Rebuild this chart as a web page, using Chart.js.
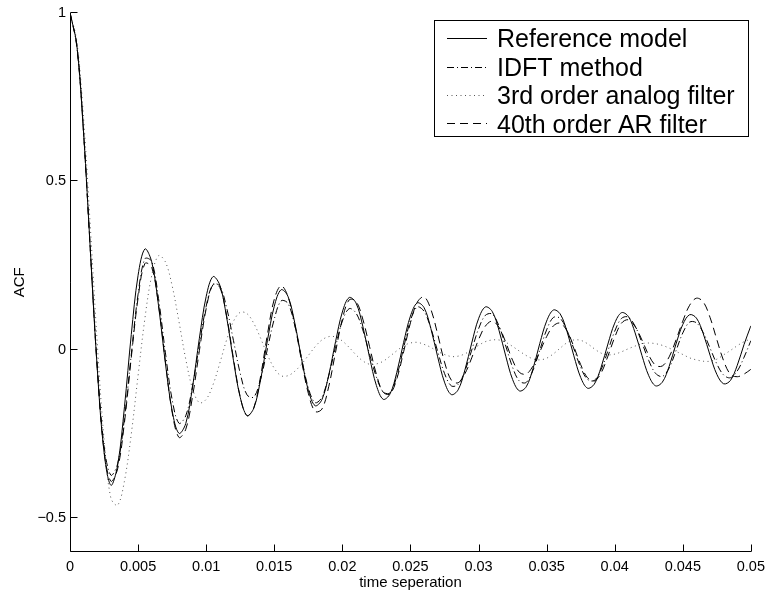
<!DOCTYPE html>
<html>
<head>
<meta charset="utf-8">
<script src="https://cdn.jsdelivr.net/npm/chart.js@4/dist/chart.umd.min.js"></script>
<style>
html,body{margin:0;padding:0;background:#fff;}
#wrap{width:771px;height:592px;}
</style>
</head>
<body>
<div id="wrap"><canvas id="c" width="771" height="592"></canvas></div>
<script>
// ---- data ----
const timeSep = [
0,0.0005,0.001,0.0015,0.002,0.0025,0.003,0.0035,0.004,0.0045,
0.005,0.0055,0.006,0.0065,0.007,0.0075,0.008,0.0085,0.009,0.0095,
0.01,0.0105,0.011,0.0115,0.012,0.0125,0.013,0.0135,0.014,0.0145,
0.015,0.0155,0.016,0.0165,0.017,0.0175,0.018,0.0185,0.019,0.0195,
0.02,0.0205,0.021,0.0215,0.022,0.0225,0.023,0.0235,0.024,0.0245,
0.025,0.0255,0.026,0.0265,0.027,0.0275,0.028,0.0285,0.029,0.0295,
0.03,0.0305,0.031,0.0315,0.032,0.0325,0.033,0.0335,0.034,0.0345,
0.035,0.0355,0.036,0.0365,0.037,0.0375,0.038,0.0385,0.039,0.0395,
0.04,0.0405,0.041,0.0415,0.042,0.0425,0.043,0.0435,0.044,0.0445,
0.045,0.0455,0.046,0.0465,0.047,0.0475,0.048,0.0485,0.049,0.0495,
0.05];

const referenceModel = [
1.000,0.904,0.643,0.291,-0.055,-0.304,-0.402,-0.342,-0.169,0.045,
0.221,0.299,0.261,0.131,-0.038,-0.181,-0.248,-0.219,-0.110,0.034,
0.158,0.217,0.192,0.097,-0.031,-0.141,-0.195,-0.173,-0.088,0.028,
0.129,0.178,0.159,0.081,-0.026,-0.120,-0.166,-0.148,-0.075,0.024,
0.112,0.155,0.139,0.070,-0.023,-0.106,-0.147,-0.131,-0.067,0.022,
0.100,0.139,0.125,0.063,-0.021,-0.096,-0.133,-0.119,-0.060,0.020,
0.092,0.127,0.114,0.058,-0.019,-0.088,-0.122,-0.110,-0.056,0.019,
0.085,0.118,0.106,0.054,-0.018,-0.082,-0.114,-0.102,-0.052,0.017,
0.079,0.110,0.099,0.050,-0.017,-0.077,-0.107,-0.096,-0.049,0.017,
0.075,0.104,0.094,0.048,-0.016,-0.073,-0.101,-0.091,-0.046,0.016,
0.071];

const idftMethod = [
1.000,0.900,0.640,0.290,-0.045,-0.285,-0.372,-0.338,-0.202,-0.014,
0.165,0.270,0.262,0.152,-0.007,-0.148,-0.218,-0.196,-0.107,0.015,
0.129,0.194,0.189,0.125,0.028,-0.070,-0.134,-0.140,-0.087,0.003,
0.091,0.145,0.138,0.073,-0.024,-0.113,-0.157,-0.141,-0.077,0.009,
0.085,0.122,0.109,0.059,-0.013,-0.081,-0.125,-0.128,-0.078,0.006,
0.087,0.127,0.114,0.064,-0.005,-0.070,-0.107,-0.103,-0.063,-0.001,
0.062,0.102,0.106,0.071,0.011,-0.052,-0.093,-0.097,-0.061,-0.001,
0.059,0.096,0.093,0.057,0.003,-0.052,-0.088,-0.091,-0.059,-0.003,
0.055,0.093,0.097,0.070,0.021,-0.032,-0.070,-0.079,-0.054,-0.003,
0.050,0.082,0.080,0.051,0.005,-0.042,-0.075,-0.083,-0.063,-0.022,
0.027];

const analogFilter3 = [
1.000,0.915,0.685,0.360,0.020,-0.265,-0.440,-0.461,-0.389,-0.250,
-0.076,0.093,0.220,0.279,0.261,0.190,0.084,-0.028,-0.116,-0.157,
-0.147,-0.104,-0.040,0.029,0.084,0.111,0.107,0.078,0.034,-0.015,
-0.055,-0.077,-0.077,-0.064,-0.043,-0.017,0.009,0.029,0.039,0.038,
0.026,0.007,-0.015,-0.033,-0.043,-0.042,-0.034,-0.019,-0.003,0.012,
0.020,0.022,0.016,0.007,-0.005,-0.014,-0.020,-0.019,-0.012,0.000,
0.013,0.024,0.029,0.029,0.022,0.010,-0.004,-0.017,-0.027,-0.030,
-0.025,-0.012,0.005,0.021,0.029,0.028,0.018,0.003,-0.010,-0.015,
-0.013,-0.006,0.003,0.011,0.018,0.020,0.018,0.013,0.005,-0.005,
-0.014,-0.024,-0.030,-0.034,-0.034,-0.028,-0.015,-0.002,0.012,0.024,
0.032];

const arFilter40 = [
1.000,0.904,0.643,0.291,-0.055,-0.300,-0.390,-0.353,-0.215,-0.023,
0.154,0.256,0.245,0.133,-0.033,-0.185,-0.260,-0.236,-0.138,-0.003,
0.122,0.193,0.185,0.101,-0.025,-0.140,-0.196,-0.172,-0.078,0.046,
0.150,0.190,0.159,0.076,-0.032,-0.129,-0.183,-0.176,-0.109,-0.007,
0.091,0.148,0.144,0.091,0.009,-0.073,-0.126,-0.131,-0.086,-0.006,
0.080,0.141,0.157,0.120,0.046,-0.036,-0.090,-0.098,-0.071,-0.024,
0.030,0.070,0.085,0.067,0.022,-0.031,-0.067,-0.072,-0.048,-0.006,
0.039,0.071,0.079,0.056,0.009,-0.044,-0.083,-0.093,-0.069,-0.019,
0.037,0.079,0.089,0.069,0.029,-0.016,-0.046,-0.048,-0.021,0.029,
0.085,0.132,0.153,0.142,0.096,0.030,-0.033,-0.073,-0.080,-0.072,
-0.058];

const seriesNames = ['Reference model','IDFT method','3rd order analog filter','40th order AR filter'];
const xTickValues = [0,0.005,0.01,0.015,0.02,0.025,0.03,0.035,0.04,0.045,0.05];
const xTickLabels = ['0','0.005','0.01','0.015','0.02','0.025','0.03','0.035','0.04','0.045','0.05'];
const yTickValues = [-0.5,0,0.5,1];
const yTickLabels = ['\u22120.5','0','0.5','1'];

// ---- rendering ----
const FONT = '"Liberation Sans", Arial, Helvetica, sans-serif';
const toPoints = vals => timeSep.map((t,i)=>({x:t, y:vals[i]}));

const styles = [
  {dash:[], color:'#000'},
  {dash:[7,3,1,3], color:'#000'},
  {dash:[1,3.5], color:'#555'},
  {dash:[8,5], color:'#000'}
];
const seriesValues = [referenceModel, idftMethod, analogFilter3, arFilter40];

const datasets = seriesValues.map((vals,i)=>({
  label: seriesNames[i],
  data: toPoints(vals),
  borderColor: styles[i].color,
  borderWidth:1,
  borderDash: styles[i].dash,
  pointRadius:0,
  tension:0.35,
  fill:false
}));

const axesAndLegend = {
  id:'axesAndLegend',
  afterDraw(chart){
    const {ctx, chartArea:a, scales:{x,y}} = chart;
    ctx.save();
    ctx.strokeStyle='#000';
    ctx.lineWidth=1;
    ctx.setLineDash([]);
    ctx.beginPath();
    ctx.moveTo(a.left+0.5, a.top);
    ctx.lineTo(a.left+0.5, a.bottom-0.5);
    ctx.lineTo(a.right+0.5, a.bottom-0.5);
    xTickValues.forEach(v=>{
      const px = Math.round(x.getPixelForValue(v))+0.5;
      ctx.moveTo(px, a.bottom-0.5);
      ctx.lineTo(px, a.bottom-7.5);
    });
    yTickValues.forEach(v=>{
      const py = Math.round(y.getPixelForValue(v))-0.5;
      ctx.moveTo(a.left+0.5, py);
      ctx.lineTo(a.left+7.5, py);
    });
    ctx.stroke();

    // legend
    const L = {x:434, y:20, w:314, h:116};
    ctx.fillStyle='#fff';
    ctx.fillRect(L.x, L.y, L.w, L.h);
    ctx.strokeRect(L.x+0.5, L.y+0.5, L.w, L.h);
    chart.data.datasets.forEach((ds,i)=>{
      const cy = 38.3 + i*28.4;
      const ly = Math.round(cy)+0.5;
      ctx.strokeStyle = ds.borderColor;
      ctx.setLineDash(ds.borderDash||[]);
      ctx.beginPath();
      ctx.moveTo(447, ly);
      ctx.lineTo(487, ly);
      ctx.stroke();
      ctx.setLineDash([]);
      ctx.strokeStyle = '#000';
      ctx.fillStyle='#000';
      ctx.font = '25px ' + FONT;
      ctx.textBaseline='alphabetic';
      ctx.textAlign='left';
      ctx.fillText(ds.label, 497, cy+9);
    });
    ctx.restore();
  }
};

new Chart(document.getElementById('c'), {
  type:'line',
  data:{datasets},
  options:{
    responsive:false,
    animation:false,
    devicePixelRatio:1,
    layout:{padding:{top:12,right:16,left:0,bottom:0}},
    plugins:{legend:{display:false}, tooltip:{enabled:false}},
    scales:{
      x:{
        type:'linear', min:0, max:0.05,
        afterBuildTicks: s=>{ s.ticks = xTickValues.map(v=>({value:v})); },
        afterFit: s=>{ s.height = 40; },
        ticks:{callback:(v,i)=>xTickLabels[i], padding:6, autoSkip:false, maxRotation:0,
               color:'#000', font:{family:FONT, size:14.5}},
        grid:{display:false, drawTicks:false},
        border:{display:false},
        title:{display:true, text:'time seperation', color:'#000',
               font:{family:FONT, size:15}, padding:{top:0,bottom:0}}
      },
      y:{
        type:'linear', min:-0.6, max:1,
        afterBuildTicks: s=>{ s.ticks = yTickValues.map(v=>({value:v})); },
        afterFit: s=>{ s.width = 70; },
        ticks:{callback:(v,i)=>yTickLabels[i], padding:4, color:'#000',
               font:{family:FONT, size:14.5}},
        grid:{display:false, drawTicks:false},
        border:{display:false},
        title:{display:true, text:'ACF', color:'#000',
               font:{family:FONT, size:15}, padding:{top:11,bottom:0}}
      }
    }
  },
  plugins:[axesAndLegend]
});
</script>
</body>
</html>
